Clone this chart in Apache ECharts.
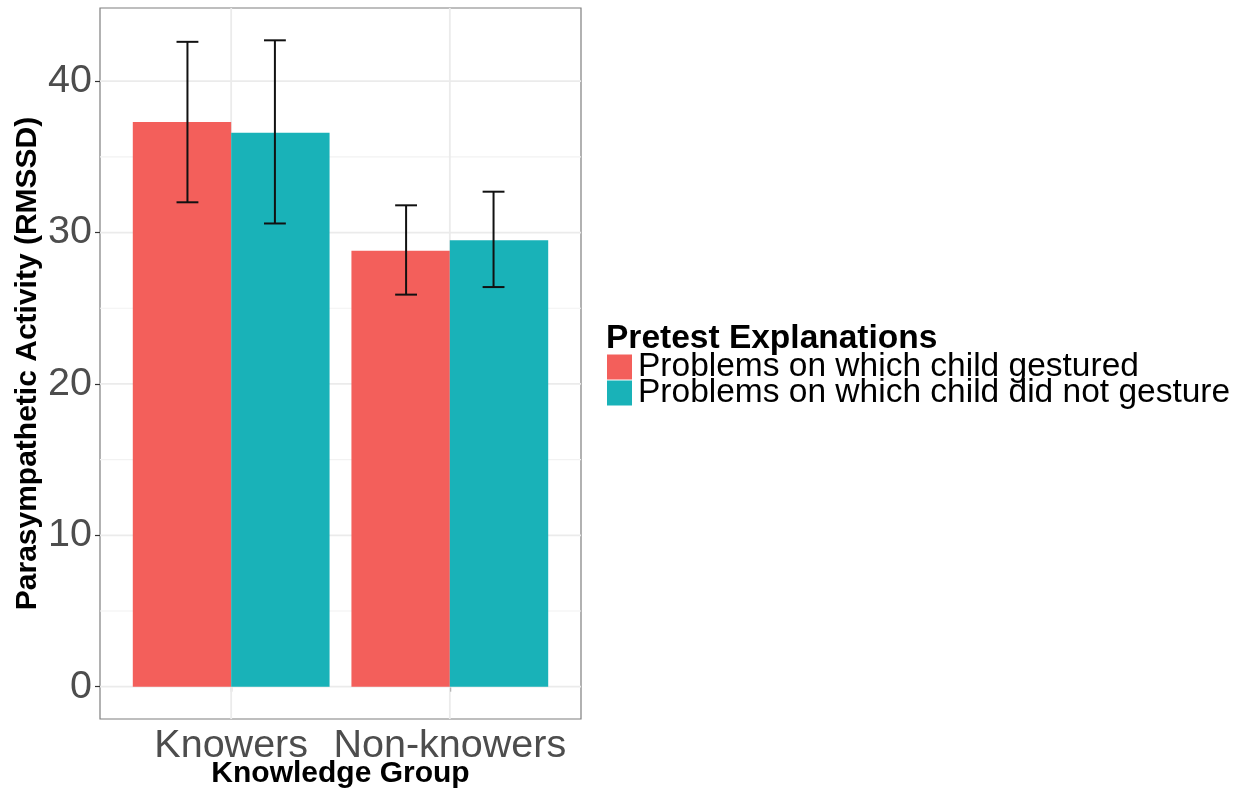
<!DOCTYPE html>
<html>
<head>
<meta charset="utf-8">
<script src="https://cdn.jsdelivr.net/npm/echarts@6/dist/echarts.min.js"></script>
<style>
  html, body { margin: 0; padding: 0; background: #ffffff; }
  #chart { width: 1238px; height: 790px; }
</style>
</head>
<body>
<div id="chart"></div>
<script>
// Group labels on the x axis
const categories = ['Knowers', 'Non-knowers'];
// Series names (legend entries)
const seriesNames = ['Problems on which child gestured', 'Problems on which child did not gesture'];
// Mean RMSSD per group
const gesturedMean = [37.3, 28.8];
const noGestureMean = [36.6, 29.5];
// Error bar limits
const gesturedLow = [32.0, 25.9];
const gesturedHigh = [42.6, 31.8];
const noGestureLow = [30.6, 26.4];
const noGestureHigh = [42.7, 32.7];
// Tick values on the y axis
const yTicks = [0, 10, 20, 30, 40];
const yMinorTicks = [5, 15, 25, 35];

const FONT = '"Liberation Sans", Arial, Helvetica, sans-serif';
const colors = ['#F35F5B', '#19B2B8'];

// Axis limits with a 5% pad around the data range
const dataMax = Math.max(...gesturedHigh, ...noGestureHigh);
const pad = dataMax * 0.05;
const yMin = -pad, yMax = dataMax + pad;

const dodge = 0.45;      // width of each bar in category units
const errOffset = 0.2;   // horizontal offset of error bars from group centre
const whisker = 0.05;    // half width of error bar caps

function barSeries(k, means) {
  return {
    type: 'custom',
    name: seriesNames[k],
    z: 2,
    itemStyle: { color: colors[k] },
    data: means.map((v, i) => [i + 1, v]),
    renderItem: function (params, api) {
      const c = api.value(0);
      const v = api.value(1);
      const p0 = api.coord([c - dodge + k * dodge, v]);
      const p1 = api.coord([c + k * dodge, 0]);
      return {
        type: 'rect',
        shape: { x: p0[0], y: p0[1], width: p1[0] - p0[0], height: p1[1] - p0[1] },
        style: { fill: colors[k] }
      };
    }
  };
}

function errorSeries(k, lows, highs) {
  const off = k === 0 ? -errOffset : errOffset;
  return {
    type: 'custom',
    name: seriesNames[k] + ' error',
    z: 3,
    silent: true,
    data: lows.map((lo, i) => [i + 1 + off, lo, highs[i]]),
    renderItem: function (params, api) {
      const x = api.value(0);
      const lo = api.value(1), hi = api.value(2);
      const top = api.coord([x, hi]);
      const bot = api.coord([x, lo]);
      const tl = api.coord([x - whisker, hi]);
      const tr = api.coord([x + whisker, hi]);
      const bl = api.coord([x - whisker, lo]);
      const br = api.coord([x + whisker, lo]);
      const st = { stroke: '#111111', lineWidth: 2 };
      return {
        type: 'group',
        children: [
          { type: 'line', shape: { x1: top[0], y1: top[1], x2: bot[0], y2: bot[1] }, style: st },
          { type: 'line', shape: { x1: tl[0], y1: tl[1], x2: tr[0], y2: tr[1] }, style: st },
          { type: 'line', shape: { x1: bl[0], y1: bl[1], x2: br[0], y2: br[1] }, style: st }
        ]
      };
    }
  };
}

// Panel grid lines (horizontal major/minor, vertical at the groups)
const gridLineData = []
  .concat(yTicks.map(v => ['h', v, 1]))
  .concat(yMinorTicks.map(v => ['h', v, 0]))
  .concat(categories.map((c, i) => ['v', i + 1, 1]));

const gridSeries = {
  type: 'custom',
  name: 'grid',
  z: 1,
  silent: true,
  data: gridLineData.map(d => [d[0] === 'h' ? 1 : 0, d[1], d[2]]),
  renderItem: function (params, api) {
    const horiz = api.value(0) === 1;
    const v = api.value(1);
    const major = api.value(2) === 1;
    const cs = params.coordSys;
    let shape;
    if (horiz) {
      const y = api.coord([1, v])[1];
      shape = { x1: cs.x, y1: y, x2: cs.x + cs.width, y2: y };
    } else {
      const x = api.coord([v, 0])[0];
      shape = { x1: x, y1: cs.y, x2: x, y2: cs.y + cs.height };
    }
    return {
      type: 'line',
      shape: shape,
      style: { stroke: major ? '#EBEBEB' : '#F2F2F2', lineWidth: major ? 1.8 : 1.2 }
    };
  }
};

const chart = echarts.init(document.getElementById('chart'), null, { renderer: 'canvas' });
chart.setOption({
  animation: false,
  backgroundColor: '#ffffff',
  textStyle: { fontFamily: FONT },
  title: {
    text: 'Pretest Explanations',
    left: 606,
    top: 322,
    padding: 0,
    textStyle: { fontFamily: FONT, fontSize: 33.5, fontWeight: 'bold', color: '#000000' }
  },
  legend: {
    data: seriesNames,
    orient: 'vertical',
    left: 607,
    top: 350,
    padding: 0,
    itemGap: -8,
    itemWidth: 25,
    itemHeight: 25,
    icon: 'rect',
    selectedMode: false,
    textStyle: { fontFamily: FONT, fontSize: 33.5, color: '#000000', padding: [0, 0, 0, 1] }
  },
  grid: {
    left: 100,
    top: 8,
    width: 481,
    height: 711,
    outerBoundsMode: 'none',
    containLabel: false,
    show: true,
    borderColor: '#7F7F7F',
    borderWidth: 1.2,
    backgroundColor: 'transparent'
  },
  xAxis: {
    type: 'value',
    min: 0.4,
    max: 2.6,
    name: 'Knowledge Group',
    nameLocation: 'middle',
    nameGap: 40,
    nameMoveOverlap: false,
    nameTextStyle: { fontFamily: FONT, fontSize: 30, fontWeight: 'bold', color: '#000000' },
    axisLine: { show: false },
    splitLine: { show: false },
    axisTick: { show: true, customValues: [1, 2], length: 5, lineStyle: { color: '#333333', width: 1.2 } },
    axisLabel: {
      customValues: [1, 2],
      formatter: v => categories[Math.round(v) - 1],
      fontFamily: FONT, fontSize: 39.5, color: '#4D4D4D', margin: 7
    }
  },
  yAxis: {
    type: 'value',
    min: yMin,
    max: yMax,
    name: 'Parasympathetic Activity (RMSSD)',
    nameLocation: 'middle',
    nameGap: 57,
    nameRotate: 90,
    nameMoveOverlap: false,
    nameTextStyle: { fontFamily: FONT, fontSize: 30, fontWeight: 'bold', color: '#000000' },
    axisLine: { show: false },
    splitLine: { show: false },
    axisTick: { show: true, customValues: yTicks, length: 5, lineStyle: { color: '#333333', width: 1.2 } },
    axisLabel: {
      customValues: yTicks,
      fontFamily: FONT, fontSize: 39.5, color: '#4D4D4D', margin: 8
    }
  },
  series: [
    gridSeries,
    barSeries(0, gesturedMean),
    barSeries(1, noGestureMean),
    errorSeries(0, gesturedLow, gesturedHigh),
    errorSeries(1, noGestureLow, noGestureHigh)
  ]
});
</script>
</body>
</html>
